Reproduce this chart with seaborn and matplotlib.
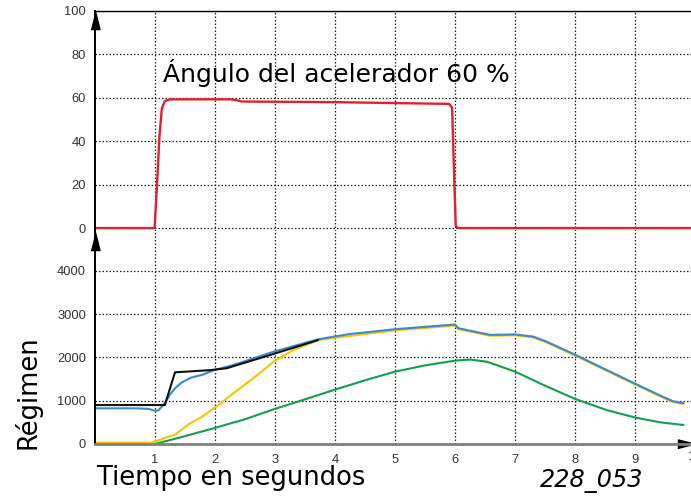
import matplotlib
matplotlib.use("Agg")
import matplotlib.pyplot as plt
import seaborn as sns

# throttle angle (%) over time (s)
t_throttle = [0, 1.0, 1.04, 1.08, 1.12, 1.17, 1.25, 2.25, 2.35, 2.45, 4.0, 5.9, 5.95, 5.98, 6.01, 6.05, 9.93]
throttle = [0, 0, 20, 42, 55, 58.5, 59.3, 59.3, 59.0, 58.3, 58.0, 57.2, 55.5, 28, 1, 0, 0]

# engine speed traces (rpm)
t_black = [0, 1.17, 1.34, 1.92, 2.2, 2.98, 3.42, 3.72]
rpm_black = [900, 900, 1655, 1705, 1750, 2080, 2270, 2400]

t_blue = [0, 0.7, 0.9, 1.0, 1.06, 1.12, 1.18, 1.26, 1.35, 1.45, 1.6, 1.8, 1.99, 2.31, 2.98, 3.72, 4.25,
          5.0, 6.0, 6.05, 6.58, 7.0, 7.3, 7.52, 8.0, 8.52, 9.0, 9.41, 9.63, 9.8]
rpm_blue = [824, 824, 810, 770, 775, 860, 960, 1150, 1300, 1420, 1530, 1600, 1705, 1824, 2132, 2418, 2540,
            2650, 2760, 2675, 2520, 2530, 2480, 2365, 2060, 1710, 1390, 1120, 985, 945]

t_yellow = [0, 0.95, 1.1, 1.2, 1.34, 1.59, 1.75, 1.99, 2.31, 2.64, 2.98, 3.31, 3.72, 4.25,
            5.0, 6.0, 6.05, 6.58, 7.0, 7.3, 7.52, 8.0, 8.52, 9.0, 9.41, 9.63, 9.8]
rpm_yellow = [30, 30, 100, 155, 215, 478, 593, 824, 1170, 1517, 1900, 2170, 2400, 2494,
              2625, 2735, 2655, 2500, 2510, 2460, 2345, 2040, 1690, 1370, 1100, 965, 925]

t_green = [0, 1.0, 1.26, 1.5, 1.92, 2.5, 2.98, 3.5, 4.0, 4.5, 5.0, 5.5, 6.0, 6.25, 6.53,
           7.0, 7.47, 8.0, 8.52, 9.0, 9.41, 9.8]
rpm_green = [0, 0, 92, 180, 339, 570, 800, 1030, 1255, 1470, 1671, 1815, 1925, 1950, 1900,
             1671, 1363, 1039, 785, 609, 501, 439]

x_ticks = [1, 2, 3, 4, 5, 6, 7, 8, 9]
top_ticks = [0, 20, 40, 60, 80, 100]
bot_ticks = [0, 1000, 2000, 3000, 4000]

sns.set_style("white")
plt.rcParams['font.family'] = ['Liberation Sans', 'DejaVu Sans']
big_font = ['DejaVu Sans']

W, H = 691, 497
fig = plt.figure(figsize=(W / 100, H / 100), dpi=100)

x0 = 94.5 / W
ax_top = fig.add_axes([x0, 1 - 231.3 / H, 1 - x0, (231.3 - 11) / H])
ax_bot = fig.add_axes([x0, 1 - 444 / H, 1 - x0, (444 - 231.8) / H])

grid_kw = dict(color='#222222', linestyle=(0, (1.2, 1.6)), linewidth=0.9)

for ax in (ax_top, ax_bot):
    ax.set_facecolor('none')
    ax.set_xlim(0, 9.925)
    ax.set_xticks(x_ticks)
    ax.grid(True, **grid_kw)
    ax.tick_params(length=0, labelsize=9.3, labelcolor='#333333', pad=6)
    ax.spines['right'].set_visible(False)
    ax.spines['left'].set_color('black')
    ax.spines['left'].set_linewidth(1.4)

# throttle panel
sns.lineplot(x=t_throttle, y=throttle, ax=ax_top, color='#e3202d', linewidth=1.7,
             estimator=None, sort=False)
ax_top.set_ylim(-1.5, 100)
ax_top.set_yticks(top_ticks)
ax_top.set_xticklabels([])
ax_top.spines['bottom'].set_visible(False)
ax_top.spines['top'].set_color('black')
ax_top.spines['top'].set_linewidth(1.0)
ax_top.text(1.14, 67.3, "Ángulo del acelerador 60 %", fontsize=18, family=big_font,
            color='black', va='baseline', ha='left')

# speed panel
for tt, rr, c in [(t_green, rpm_green, '#13a04b'),
                  (t_yellow, rpm_yellow, '#f7c500'),
                  (t_blue, rpm_blue, '#3d89cc'),
                  (t_black, rpm_black, '#111111')]:
    sns.lineplot(x=tt, y=rr, ax=ax_bot, color=c, linewidth=1.5, estimator=None, sort=False)
ax_bot.set_ylim(0, 4900)
ax_bot.set_yticks(bot_ticks)
ax_bot.spines['top'].set_visible(False)
ax_bot.spines['bottom'].set_color('#808080')
ax_bot.spines['bottom'].set_linewidth(2.0)
ax_bot.tick_params(axis='x', pad=7)
# the "10" label sits on the figure edge, as in the original
ax_bot.text(10, -290, "10", fontsize=9.3, color='#333333', ha='center', va='center')

# arrow heads on the axes
up = [(-1, -4), (1, -4), (0, 0)]
right = [(0, 0), (-4, 1), (-4, -1)]
ax_top.plot(0, 1, marker=up, markersize=26, color='black', transform=ax_top.transAxes, clip_on=False)
ax_bot.plot(0, 1, marker=up, markersize=26, color='black', transform=ax_bot.transAxes, clip_on=False)
ax_bot.plot(10.0, 0, marker=right, markersize=26, color='black', clip_on=False)

fig.text(97 / W, 1 - 485 / H, "Tiempo en segundos", fontsize=18.5, family=big_font,
         color='black', ha='left', va='baseline')
fig.text(540 / W, 1 - 487 / H, "228_053", fontsize=17.2, family=big_font, style='italic',
         color='black', ha='left', va='baseline')
fig.text(28 / W, 1 - 392 / H, "Régimen", fontsize=18.5, family=big_font, rotation=90,
         color='black', ha='center', va='center')

fig.savefig("out.png", dpi=100)
